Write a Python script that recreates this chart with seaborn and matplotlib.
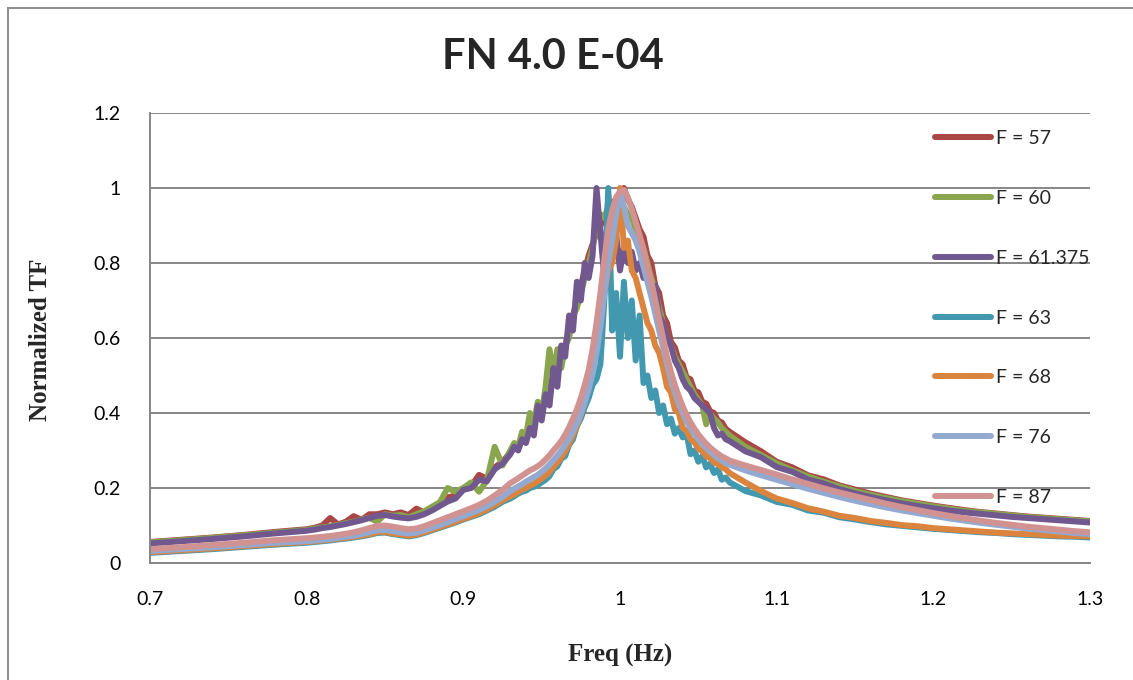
import numpy as np
import pandas as pd
import matplotlib
matplotlib.use("Agg")
import matplotlib.pyplot as plt
from matplotlib.lines import Line2D
from matplotlib.patches import Rectangle
import seaborn as sns

# Frequency sampling (Hz): coarse on the far tails, fine around resonance
freq = np.round(np.concatenate([
    np.arange(0.70, 0.79, 0.02),
    np.arange(0.800, 0.9251, 0.005),
    np.arange(0.930, 1.0676, 0.0025),
    np.arange(1.07, 1.3001, 0.01),
]), 4)

series_labels = ["F = 57", "F = 60", "F = 61.375", "F = 63", "F = 68", "F = 76", "F = 87"]
series_colors = ["#AA4643", "#89A54E", "#71588F", "#4198AF", "#DB843D", "#93A9CF", "#D19392"]

tf_57 = [
    0.056, 0.062, 0.068, 0.075, 0.083,
    0.090, 0.094, 0.100, 0.120, 0.103, 0.110, 0.125, 0.115, 0.130, 0.130, 0.135, 0.130, 0.135,
    0.128, 0.145, 0.135, 0.148, 0.158, 0.175, 0.180, 0.198, 0.205, 0.235, 0.225, 0.255, 0.270,
    0.295, 0.305, 0.310, 0.330, 0.335, 0.360, 0.370, 0.400,
    0.410, 0.440, 0.460, 0.500, 0.520, 0.560, 0.580, 0.620,
    0.660, 0.700, 0.740, 0.780, 0.820, 0.850, 0.880, 0.900,
    0.920, 0.940, 0.960, 0.970, 0.980, 1.000, 0.970, 0.950,
    0.920, 0.890, 0.870, 0.820, 0.800, 0.740, 0.720, 0.660,
    0.640, 0.590, 0.575, 0.540, 0.530, 0.495, 0.490, 0.460,
    0.455, 0.430, 0.425, 0.405, 0.400, 0.380, 0.375, 0.358,
    0.350, 0.322, 0.298, 0.270, 0.255, 0.234, 0.223, 0.207,
    0.196, 0.185, 0.176, 0.167, 0.160, 0.153, 0.147, 0.141,
    0.136, 0.132, 0.128, 0.124, 0.121, 0.118, 0.115, 0.112,
]

tf_60 = [
    0.055, 0.061, 0.067, 0.074, 0.081,
    0.088, 0.092, 0.095, 0.098, 0.102, 0.106, 0.110, 0.115, 0.121, 0.110, 0.130, 0.126, 0.128,
    0.122, 0.130, 0.138, 0.150, 0.162, 0.200, 0.190, 0.200, 0.215, 0.190, 0.220, 0.310, 0.260,
    0.300, 0.320, 0.310, 0.350, 0.340, 0.400, 0.370, 0.430,
    0.400, 0.470, 0.570, 0.500, 0.570, 0.520, 0.580, 0.600,
    0.660, 0.680, 0.720, 0.760, 0.800, 0.840, 0.900, 0.930,
    0.920, 0.950, 0.930, 0.950, 0.940, 0.950, 0.930, 0.920,
    0.890, 0.870, 0.840, 0.800, 0.760, 0.730, 0.680, 0.640,
    0.600, 0.580, 0.550, 0.530, 0.510, 0.490, 0.470, 0.450,
    0.435, 0.420, 0.370, 0.400, 0.385, 0.375, 0.360, 0.350,
    0.340, 0.310, 0.288, 0.266, 0.247, 0.231, 0.217, 0.204,
    0.192, 0.182, 0.173, 0.165, 0.158, 0.151, 0.145, 0.139,
    0.135, 0.131, 0.127, 0.123, 0.120, 0.117, 0.114, 0.111,
]

tf_61375 = [
    0.052, 0.058, 0.064, 0.071, 0.079,
    0.086, 0.089, 0.093, 0.096, 0.100, 0.104, 0.109, 0.114, 0.120, 0.126, 0.128, 0.124, 0.121,
    0.119, 0.123, 0.130, 0.140, 0.152, 0.164, 0.172, 0.195, 0.200, 0.222, 0.218, 0.250, 0.265,
    0.290, 0.310, 0.300, 0.330, 0.320, 0.360, 0.340, 0.420,
    0.380, 0.450, 0.420, 0.520, 0.470, 0.580, 0.550, 0.660,
    0.620, 0.750, 0.700, 0.800, 0.760, 0.820, 1.000, 0.880,
    0.760, 0.980, 0.820, 0.880, 0.780, 0.840, 0.800, 0.830,
    0.780, 0.800, 0.760, 0.770, 0.720, 0.740, 0.660, 0.640,
    0.600, 0.580, 0.540, 0.520, 0.490, 0.470, 0.460, 0.440,
    0.430, 0.420, 0.410, 0.400, 0.360, 0.340, 0.345, 0.330,
    0.325, 0.298, 0.282, 0.256, 0.243, 0.223, 0.212, 0.197,
    0.186, 0.176, 0.167, 0.159, 0.152, 0.146, 0.140, 0.135,
    0.131, 0.127, 0.123, 0.120, 0.117, 0.114, 0.111, 0.108,
]

tf_63 = [
    0.027, 0.032, 0.037, 0.043, 0.049,
    0.054, 0.056, 0.058, 0.060, 0.063, 0.065, 0.068, 0.071, 0.075, 0.080, 0.081, 0.077, 0.074,
    0.071, 0.074, 0.080, 0.087, 0.094, 0.101, 0.108, 0.116, 0.123, 0.130, 0.140, 0.150, 0.163,
    0.172, 0.178, 0.185, 0.190, 0.193, 0.200, 0.203, 0.208,
    0.215, 0.222, 0.232, 0.250, 0.258, 0.278, 0.285, 0.315,
    0.330, 0.365, 0.385, 0.415, 0.440, 0.475, 0.490, 0.530,
    0.700, 1.000, 0.620, 0.720, 0.550, 0.750, 0.600, 0.700,
    0.540, 0.660, 0.480, 0.500, 0.440, 0.460, 0.400, 0.420,
    0.370, 0.385, 0.345, 0.360, 0.335, 0.345, 0.290, 0.300,
    0.270, 0.285, 0.255, 0.265, 0.240, 0.250, 0.222, 0.228,
    0.215, 0.192, 0.180, 0.163, 0.155, 0.140, 0.134, 0.122,
    0.116, 0.109, 0.103, 0.099, 0.095, 0.091, 0.088, 0.085,
    0.082, 0.080, 0.077, 0.075, 0.073, 0.071, 0.070, 0.068,
]

tf_68 = [
    0.029, 0.034, 0.039, 0.045, 0.051,
    0.056, 0.058, 0.060, 0.062, 0.065, 0.067, 0.070, 0.073, 0.077, 0.082, 0.083, 0.079, 0.076,
    0.073, 0.076, 0.082, 0.089, 0.096, 0.103, 0.110, 0.118, 0.125, 0.133, 0.143, 0.154, 0.167,
    0.178, 0.183, 0.190, 0.196, 0.200, 0.206, 0.211, 0.218,
    0.225, 0.233, 0.243, 0.256, 0.268, 0.282, 0.298, 0.318,
    0.340, 0.365, 0.395, 0.430, 0.470, 0.520, 0.580, 0.650,
    0.720, 0.780, 0.800, 0.860, 1.000, 0.840, 0.860, 0.780,
    0.760, 0.720, 0.680, 0.640, 0.620, 0.580, 0.560, 0.520,
    0.470, 0.455, 0.410, 0.400, 0.360, 0.352, 0.330, 0.322,
    0.305, 0.298, 0.285, 0.280, 0.268, 0.264, 0.255, 0.250,
    0.240, 0.215, 0.192, 0.172, 0.160, 0.146, 0.137, 0.126,
    0.120, 0.112, 0.107, 0.101, 0.098, 0.093, 0.090, 0.087,
    0.084, 0.081, 0.079, 0.077, 0.075, 0.073, 0.072, 0.071,
]

tf_76 = [
    0.032, 0.037, 0.042, 0.048, 0.054,
    0.058, 0.060, 0.062, 0.064, 0.067, 0.070, 0.073, 0.077, 0.082, 0.087, 0.088, 0.085, 0.081,
    0.079, 0.081, 0.087, 0.094, 0.101, 0.109, 0.117, 0.125, 0.133, 0.141, 0.151, 0.163, 0.176,
    0.192, 0.198, 0.204, 0.210, 0.217, 0.223, 0.229, 0.235,
    0.243, 0.252, 0.262, 0.274, 0.286, 0.299, 0.314, 0.331,
    0.350, 0.372, 0.398, 0.428, 0.463, 0.505, 0.560, 0.630,
    0.720, 0.800, 0.860, 0.930, 0.990, 0.950, 0.900, 0.880,
    0.860, 0.830, 0.790, 0.750, 0.710, 0.665, 0.620, 0.575,
    0.530, 0.490, 0.455, 0.425, 0.400, 0.378, 0.360, 0.344,
    0.330, 0.318, 0.307, 0.297, 0.288, 0.280, 0.273, 0.267,
    0.262, 0.247, 0.234, 0.222, 0.210, 0.198, 0.187, 0.176,
    0.166, 0.157, 0.148, 0.140, 0.133, 0.126, 0.119, 0.113,
    0.107, 0.102, 0.097, 0.092, 0.088, 0.084, 0.080, 0.077,
]

tf_87 = [
    0.037, 0.042, 0.048, 0.054, 0.061,
    0.066, 0.068, 0.070, 0.072, 0.075, 0.078, 0.082, 0.087, 0.093, 0.099, 0.100, 0.097, 0.093,
    0.090, 0.092, 0.098, 0.106, 0.114, 0.122, 0.130, 0.138, 0.146, 0.155, 0.166, 0.180, 0.195,
    0.213, 0.219, 0.226, 0.233, 0.240, 0.247, 0.252, 0.258,
    0.266, 0.276, 0.287, 0.300, 0.312, 0.325, 0.342, 0.362,
    0.385, 0.410, 0.440, 0.475, 0.515, 0.570, 0.640, 0.720,
    0.810, 0.890, 0.940, 0.975, 0.990, 0.995, 0.975, 0.945,
    0.910, 0.875, 0.835, 0.790, 0.750, 0.700, 0.650, 0.600,
    0.550, 0.510, 0.475, 0.445, 0.418, 0.395, 0.375, 0.358,
    0.343, 0.330, 0.318, 0.308, 0.299, 0.291, 0.284, 0.279,
    0.273, 0.260, 0.248, 0.236, 0.223, 0.211, 0.199, 0.188,
    0.178, 0.168, 0.158, 0.149, 0.141, 0.133, 0.126, 0.119,
    0.113, 0.107, 0.102, 0.097, 0.093, 0.089, 0.085, 0.082,
]

x_ticks = [0.7, 0.8, 0.9, 1.0, 1.1, 1.2, 1.3]
x_tick_labels = ["0.7", "0.8", "0.9", "1", "1.1", "1.2", "1.3"]
y_ticks = [0.0, 0.2, 0.4, 0.6, 0.8, 1.0, 1.2]
y_tick_labels = ["0", "0.2", "0.4", "0.6", "0.8", "1", "1.2"]

all_series = [tf_57, tf_60, tf_61375, tf_63, tf_68, tf_76, tf_87]
frames = []
for label, values in zip(series_labels, all_series):
    frames.append(pd.DataFrame({"freq": freq, "tf": values, "series": label}))
df = pd.concat(frames, ignore_index=True)

sns.set_theme(style="white")
plt.rcParams["font.family"] = ["Lato", "DejaVu Sans"]

W, H = 1133, 680
fig = plt.figure(figsize=(W / 100, H / 100), dpi=100)
ax = fig.add_axes([150 / W, 1 - 563 / H, 940 / W, 450 / H])

grid_gray = "#868686"
line_w = 4.3

sns.lineplot(data=df, x="freq", y="tf", hue="series", hue_order=series_labels,
             palette=series_colors, linewidth=line_w, estimator=None, sort=False,
             legend=False, ax=ax, solid_capstyle="round", solid_joinstyle="round")

ax.set_xlim(0.7, 1.3)
ax.set_ylim(0, 1.2)
ax.set_xticks(x_ticks)
ax.set_xticklabels(x_tick_labels)
ax.set_yticks(y_ticks)
ax.set_yticklabels(y_tick_labels)
ax.set_xlabel("")
ax.set_ylabel("")
ax.yaxis.grid(True, color=grid_gray, linewidth=1.4)
ax.xaxis.grid(False)
ax.set_axisbelow(True)
for side in ["top", "right"]:
    ax.spines[side].set_visible(False)
for side in ["left", "bottom"]:
    ax.spines[side].set_color(grid_gray)
    ax.spines[side].set_linewidth(1.4)
ax.tick_params(axis="both", which="major", direction="out", length=4, width=1.2,
               color=grid_gray, labelsize=14, labelcolor="black")
ax.tick_params(axis="y", pad=17)
ax.tick_params(axis="x", pad=16)

handles = [Line2D([], [], color=c, linewidth=line_w, solid_capstyle="round") for c in series_colors]
ax.legend(handles, series_labels, loc="center left",
          bbox_to_anchor=(935 / W, 1 - 318 / H), bbox_transform=fig.transFigure,
          frameon=False, handlelength=2.9, handletextpad=0.26, labelspacing=2.2,
          borderpad=0, borderaxespad=0, fontsize=14)

fig.text(553 / W, 1 - 57 / H, "FN 4.0 E-04", ha="center", va="center",
         fontsize=30, fontweight="bold", family=["Lato", "DejaVu Sans"])
fig.text(41 / W, 1 - 340 / H, "Normalized TF", ha="center", va="center", rotation=90,
         fontsize=18, fontweight="bold", family=["Liberation Serif", "DejaVu Serif"])
fig.text(620 / W, 1 - 655 / H, "Freq (Hz)", ha="center", va="center",
         fontsize=18, fontweight="bold", family=["Liberation Serif", "DejaVu Serif"])

# Chart-area frame
fig.patches.append(Rectangle((8 / W, -0.05), 1.2, 1.05 - 8 / H, transform=fig.transFigure,
                             fill=False, edgecolor="#8C8C8C", linewidth=1.4))

fig.savefig("out.png", dpi=100)
